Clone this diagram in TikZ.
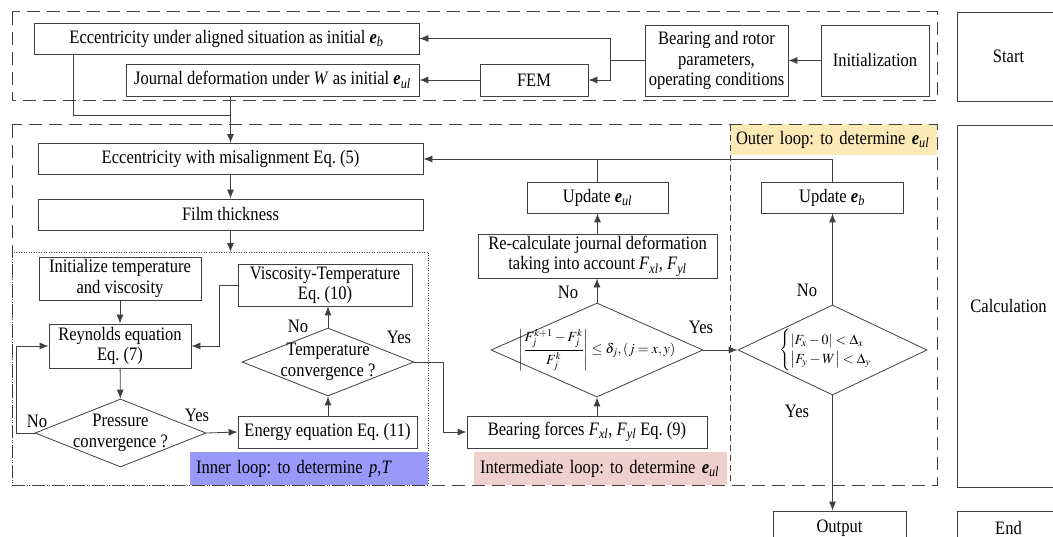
\documentclass[tikz,border=0pt]{standalone}
\usepackage{amsmath}
\usepackage{mathptmx}
\usepackage{fontspec}
\setmainfont[FakeStretch=0.87]{Liberation Serif}
\usepackage{tikz}
\usetikzlibrary{shapes,arrows,arrows.meta}
\definecolor{outertag}{RGB}{252,234,182}
\definecolor{innertag}{RGB}{153,153,250}
\definecolor{midtag}{RGB}{240,208,204}
\tikzstyle{procbox} = [draw=black!75, line width=0.8pt, rectangle, align=center, inner sep=2pt]
\tikzstyle{decision} = [draw=black!75, line width=0.8pt, diamond, inner sep=0pt]
\tikzstyle{line} = [draw=black!75, line width=0.8pt]
\tikzstyle{arrow} = [draw=black!75, line width=0.8pt, -{Latex[length=9pt,width=7pt]}]
\tikzstyle{yesno} = [inner sep=1pt]
\tikzstyle{looptag} = [inner xsep=6pt, inner ysep=0pt, align=left]
\tikzstyle{region} = [draw=black!75, line width=1pt, dash pattern=on 13pt off 7pt]
\newcommand{\ecb}{\textbf{\textit{e}}\textsubscript{\textit{b}}}
\newcommand{\ecul}{\textbf{\textit{e}}\textsubscript{\textit{ul}}}
\newcommand{\fxy}{\textit{F}\textsubscript{\textit{xl}}, \textit{F}\textsubscript{\textit{yl}}}
\frenchspacing

\begin{document}
\begin{tikzpicture}[x=1pt, y=-1pt, font=\fontsize{19}{20.5}\selectfont]
\useasboundingbox (0,0) rectangle (1053,537);

% loop tags
\node [looptag, fill=outertag, text width=195pt, minimum height=31pt] (outertagnode) at (833.5,139.5) {Outer loop: to determine \ecul};
\node [looptag, fill=innertag, text width=226pt, minimum height=33pt] (innertagnode) at (309,468.5) {Inner loop: to determine \textit{p},\textit{T}};
\node [looptag, fill=midtag, text width=241pt, minimum height=33pt] (midtagnode) at (600.5,468.5) {Intermediate loop: to determine \ecul};

% regions
\draw [region] (12,12) rectangle (937,101);
\draw [region] (12,125) rectangle (937,485);
\draw [draw=black!75, line width=0.9pt, dash pattern=on 6pt off 4pt] (730,125) -- (730,485);
\draw [draw=black!75, line width=0.7pt, dash pattern=on 1pt off 1.5pt] (12,252) rectangle (428,485);

% start
\node [procbox, minimum width=385pt, minimum height=31pt] (eccb) at (226.5,38.5) {Eccentricity under aligned situation as initial \ecb};
\node [procbox, minimum width=293pt, minimum height=32pt] (jdef) at (272.5,80) {Journal deformation under \textit{W} as initial \ecul};
\node [procbox, minimum width=108pt, minimum height=32pt] (fem) at (534,80) {FEM};
\node [procbox, minimum width=143pt, minimum height=71pt, inner sep=0pt] (brp) at (716.5,60.5) {Bearing and rotor\\parameters,\\operating conditions};
\node [procbox, minimum width=108pt, minimum height=71pt] (init) at (875,60.5) {Initialization};
\coordinate (split) at (610,60.5);
\coordinate (join) at (230.5,115);

% calculation
\node [procbox, minimum width=385pt, minimum height=31pt] (emis) at (230.5,159) {Eccentricity with misalignment Eq. (5)};
\node [procbox, minimum width=385pt, minimum height=31pt] (film) at (230.5,214.5) {Film thickness};
\coordinate (innertop) at (230.5,252);
\node [procbox, minimum width=162pt, minimum height=43pt] (initT) at (120,278.5) {Initialize temperature\\and viscosity};
\node [procbox, minimum width=174pt, minimum height=42pt] (visc) at (325,285) {Viscosity-Temperature\\Eq. (10)};
\node [procbox, minimum width=142pt, minimum height=44pt] (reyn) at (120,346) {Reynolds equation\\Eq. (7)};
\node [decision, minimum width=171pt, minimum height=68pt, label={[align=center]center:Pressure\\convergence ?}] (press) at (120.5,433) {};
\node [procbox, minimum width=179pt, minimum height=32pt] (energy) at (327.5,432) {Energy equation Eq. (11)};
\node [decision, minimum width=172pt, minimum height=68pt, label={[align=center]center:Temperature\\convergence ?}] (temp) at (328,362) {};
\node [procbox, minimum width=240pt, minimum height=32pt] (bforce) at (587,432) {Bearing forces \fxy\ Eq. (9)};
\node [decision, minimum width=212pt, minimum height=94pt, label={[font=\fontsize{14}{16}\selectfont]center:$\left|\dfrac{F_j^{k+1}-F_j^k}{F_j^k}\right|\le\delta_j,(j=x,y)$}] (dint) at (597,350) {};
\node [procbox, minimum width=239pt, minimum height=44pt] (recalc) at (597.5,256) {Re-calculate journal deformation\\taking into account \fxy};
\node [procbox, minimum width=141pt, minimum height=31pt] (updul) at (597.5,197.5) {Update \ecul};
\node [procbox, minimum width=142pt, minimum height=31pt] (updb) at (832,197.5) {Update \ecb};
\node [decision, minimum width=189pt, minimum height=90pt, label={[font=\fontsize{14}{16}\selectfont]center:$\begin{cases}\left|F_x-0\right|<\Delta_x\\ \left|F_y-W\right|<\Delta_y\end{cases}$}] (dout) at (832.5,350) {};
\node [procbox, minimum width=133pt, minimum height=34pt] (output) at (839.5,528) {Output};

% stages
\node [procbox, minimum width=103pt, minimum height=89pt] (start) at (1008.5,56.5) {Start};
\node [procbox, minimum width=103pt, minimum height=362pt] (calc) at (1008.5,306) {Calculation};
\node [procbox, minimum width=103pt, minimum height=34pt] (stop) at (1008.5,528) {End};

% yes / no
\node [yesno] (pno) at (37,421) {No};
\node [yesno] (pyes) at (197,415) {Yes};
\node [yesno] (tno) at (298,326) {No};
\node [yesno] (tyes) at (399,337) {Yes};
\node [yesno] (dno) at (568,292) {No};
\node [yesno] (dyes) at (701,327) {Yes};
\node [yesno] (ono) at (807,290) {No};
\node [yesno] (oyes) at (797,411) {Yes};

% connectors
\draw [arrow] (init.west) -- (brp.east);
\draw [line] (brp.west) -- (split);
\draw [arrow] (split) |- (eccb.east);
\draw [arrow] (split) |- (fem.east);
\draw [arrow] (fem.west) -- (jdef.east);
\draw [line] ([xshift=40pt]eccb.south west) |- (join);
\draw [arrow] (jdef.south -| emis.north) -- (emis.north);
\draw [arrow] (updb.north) |- (emis.east);
\draw [line] (updul.north) -- (updul.north |- emis.east);
\draw [arrow] (emis) -- (film);
\draw [arrow] (film.south) -- (innertop);
\draw [arrow] (initT) -- (reyn);
\draw [arrow] (reyn) -- (press);
\draw [arrow] (press.west) -- ++(-18,0) |- (reyn.west);
\draw [arrow] (visc.west) -- ++(-18,0) |- (reyn.east);
\draw [arrow] (press.east) -- (energy.west);
\draw [arrow] (energy.north -| temp.south) -- (temp.south);
\draw [arrow] (temp.north) -- (temp.north |- visc.south);
\draw [arrow] (temp.east) -- ++(29,0) |- (bforce.west);
\draw [arrow] (bforce.north -| dint.south) -- (dint.south);
\draw [arrow] (dint.north) -- (dint.north |- recalc.south);
\draw [arrow] (recalc) -- (updul);
\draw [arrow] (dint.east) -- (dout.west);
\draw [arrow] (dout.north) -- (dout.north |- updb.south);
\draw [arrow] (dout.south) -- (dout.south |- output.north);
\end{tikzpicture}
\end{document}
